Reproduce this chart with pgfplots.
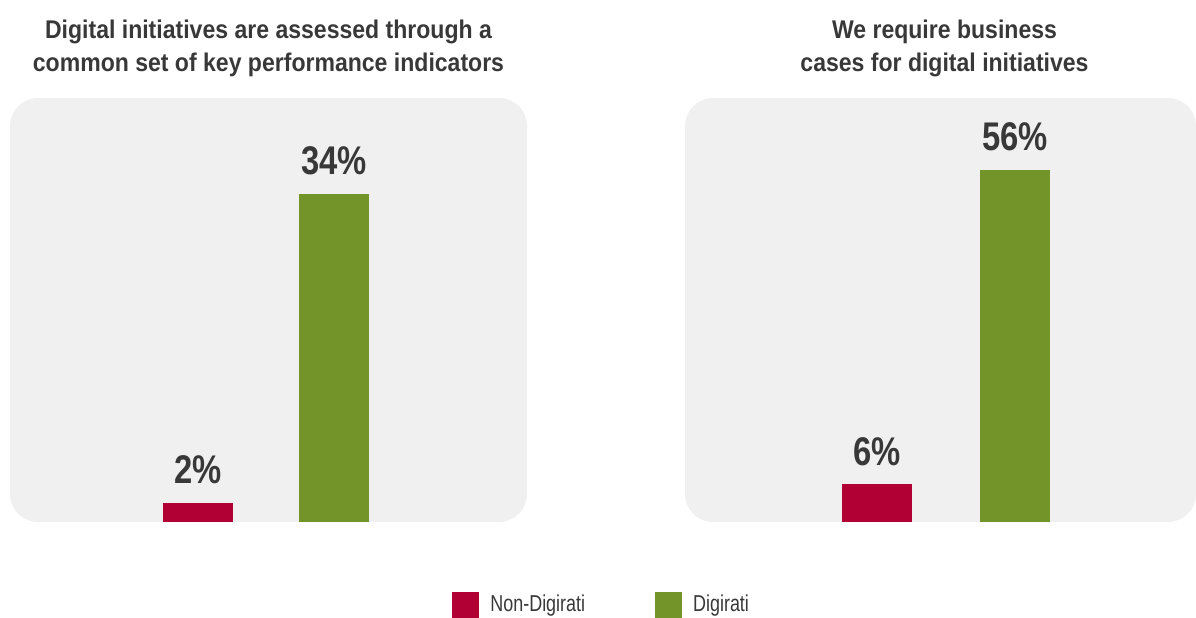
\documentclass[border=0pt]{standalone}
\usepackage{pgfplots}
\pgfplotsset{compat=1.18}
\usepackage{fontspec}
\setmainfont{Liberation Sans}
\newfontfamily\narrowbold[FakeStretch=0.82]{Liberation Sans Bold}
\newfontfamily\titlebold[FakeStretch=0.9]{Liberation Sans Bold}
\newfontfamily\narrowreg[FakeStretch=0.78]{Liberation Sans}
\definecolor{nondig}{HTML}{B10034}
\definecolor{dig}{HTML}{739428}
\definecolor{panel}{HTML}{F0F0F0}
\definecolor{txt}{HTML}{383838}
\begin{document}
\begin{tikzpicture}
\path[use as bounding box] (0,0) rectangle (598pt,308.5pt);
\pgfplotsset{
  panelaxis/.style={
    scale only axis,
    anchor=south west,
    height=212pt,
    ymin=0,
    axis line style={draw=none},
    xtick=\empty, ytick=\empty,
    axis background/.style={fill=panel, rounded corners=14pt},
    ybar, bar width=35pt, bar shift=0pt,
    /pgf/number format/assume math mode=true,
    nodes near coords={\pgfmathprintnumber{\pgfplotspointmeta}\%},
    nodes near coords style={anchor=base, yshift=9.5pt, inner sep=0pt,
      font=\narrowbold\fontsize{20}{24}\selectfont, text=txt},
    title style={font=\titlebold\fontsize{12.8}{16.5}\selectfont, text=txt,
      align=center, anchor=south, at={(0.5,1)}, yshift=4.5pt, inner sep=0pt},
    clip=false,
  }
}
\begin{axis}[panelaxis,
  at={(5pt,47.5pt)}, width=258.5pt,
  xmin=-1.382, xmax=2.419, ymax=43.95,
  title={Digital initiatives are assessed through a\\common set of key performance indicators},
  legend columns=2,
  legend style={at={(0.855,-0.1958)}, anchor=west, draw=none, fill=none,
    inner sep=0pt, nodes={inner sep=0pt},
    font=\narrowreg\fontsize{11.5}{13}\selectfont, text=txt,
    /tikz/every odd column/.append style={column sep=5.5pt},
    /tikz/every even column/.append style={column sep=35pt}},
  legend image code/.code={\fill[#1] (0pt,-6.5pt) rectangle (13.5pt,6.5pt);},
]
\addplot[fill=nondig, draw=none] coordinates {(0,2)};
\addlegendentry{Non-Digirati}
\addplot[fill=dig, draw=none] coordinates {(1,34)};
\addlegendentry{Digirati}
\end{axis}
\begin{axis}[panelaxis,
  at={(342.5pt,47.5pt)}, width=255.5pt,
  xmin=-1.391, xmax=2.312, ymax=67.45,
  title={We require business\\cases for digital initiatives},
  title style={xshift=2pt},
]
\addplot[fill=nondig, draw=none] coordinates {(0,6)};
\addplot[fill=dig, draw=none] coordinates {(1,56)};
\end{axis}
\end{tikzpicture}
\end{document}
